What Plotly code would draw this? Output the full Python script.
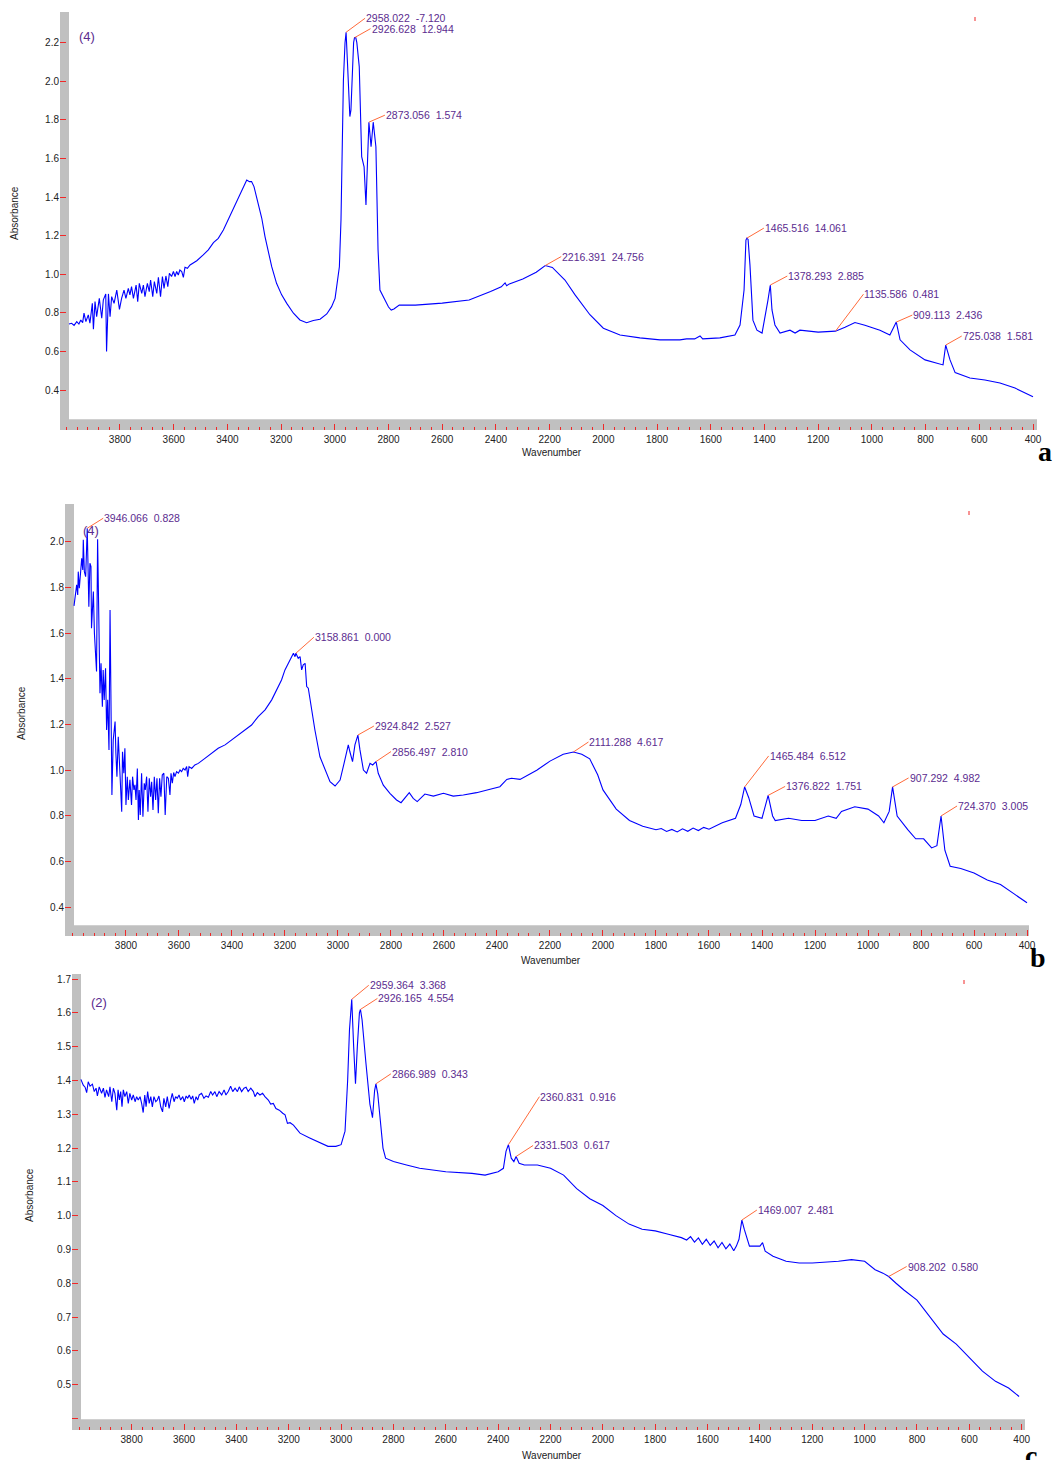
import numpy as np
import plotly.graph_objects as go

W, H = 1053, 1460
BLUE = "#0000FF"
RED = "#F02828"
BAR = "#C0C0C0"
PURPLE = "#5B2C8F"
LEADER = "#FF6A3A"
FONT = "Liberation Sans, Arial, sans-serif"

# ---------------- spectrum (a) ----------------
wn_a = [3990, 3980, 3971, 3961, 3953, 3946, 3939, 3934, 3927, 3918, 3912, 3903, 3899, 3893, 3887,
        3877, 3868, 3862, 3853, 3850, 3843, 3837, 3831, 3822, 3812, 3802, 3794, 3785, 3778, 3769,
        3763, 3757, 3750, 3740, 3734, 3728, 3719, 3713, 3707, 3698, 3691, 3686, 3678, 3672, 3663,
        3657, 3649, 3642, 3636, 3629, 3622, 3616, 3608, 3601, 3595, 3589, 3583, 3577, 3570, 3564,
        3558, 3549, 3539, 3514, 3490, 3471, 3452, 3434, 3415, 3397, 3378, 3359, 3343, 3334, 3328,
        3318, 3310, 3301, 3289, 3272, 3260, 3248, 3235, 3217, 3198, 3179, 3154, 3130, 3105, 3080,
        3055, 3030, 3012, 2999, 2991, 2983, 2977, 2972, 2968, 2962, 2958.022, 2953, 2948, 2944, 2940,
        2935, 2930, 2926.628, 2922, 2918, 2909, 2900, 2891, 2884, 2878, 2873.056, 2865, 2857, 2847, 2839,
        2832, 2813, 2800, 2790, 2780, 2760, 2700, 2600, 2500, 2420, 2380, 2366, 2360, 2350, 2300,
        2250, 2216.391, 2190, 2143, 2106, 2050, 2000, 1938, 1864, 1789, 1715, 1690, 1660, 1640, 1630,
        1566, 1510, 1491, 1476, 1469, 1465.516, 1461, 1454, 1443, 1428, 1409, 1387, 1378.293, 1372, 1361,
        1342, 1305, 1286, 1268, 1200, 1135.586, 1100, 1063, 1026, 970, 933, 920, 909.113, 895, 858,
        802, 765, 735, 725.038, 709, 690, 635, 579, 523, 467, 400]
abs_a = [0.742, 0.746, 0.735, 0.754, 0.742, 0.763, 0.749, 0.798, 0.754, 0.789, 0.746, 0.849, 0.715, 0.858, 0.780,
         0.875, 0.772, 0.867, 0.898, 0.599, 0.898, 0.780, 0.884, 0.849, 0.918, 0.818, 0.875, 0.918, 0.875, 0.927,
         0.893, 0.936, 0.875, 0.944, 0.858, 0.953, 0.901, 0.944, 0.884, 0.953, 0.910, 0.970, 0.884, 0.962, 0.901,
         0.984, 0.884, 0.988, 0.927, 0.991, 0.936, 1.005, 0.988, 1.014, 0.988, 1.014, 0.996, 1.022, 1.014, 0.984,
         1.036, 1.031, 1.048, 1.070, 1.100, 1.126, 1.164, 1.186, 1.229, 1.281, 1.342, 1.394, 1.437, 1.471, 1.488,
         1.480, 1.480, 1.454, 1.385, 1.290, 1.195, 1.117, 1.039, 0.953, 0.893, 0.849, 0.798, 0.763, 0.749, 0.760,
         0.767, 0.794, 0.832, 0.875, 0.970, 1.039, 1.281, 1.748, 2.007, 2.200, 2.254, 2.100, 1.900, 1.817, 1.850,
         2.050, 2.200, 2.226, 2.226, 2.200, 2.076, 1.609, 1.557, 1.359, 1.550, 1.788, 1.661, 1.788, 1.661, 1.126,
         0.918, 0.866, 0.830, 0.814, 0.820, 0.840, 0.840, 0.850, 0.866, 0.910, 0.935, 0.955, 0.940, 0.950, 0.975,
         1.010, 1.045, 1.035, 0.970, 0.894, 0.790, 0.720, 0.685, 0.670, 0.660, 0.660, 0.665, 0.665, 0.680, 0.665,
         0.670, 0.685, 0.737, 0.918, 1.177, 1.187, 1.180, 1.047, 0.762, 0.710, 0.695, 0.866, 0.944, 0.815, 0.737,
         0.695, 0.710, 0.695, 0.710, 0.700, 0.705, 0.725, 0.750, 0.736, 0.710, 0.685, 0.720, 0.752, 0.660, 0.608,
         0.556, 0.540, 0.530, 0.633, 0.556, 0.490, 0.462, 0.452, 0.436, 0.410, 0.365]

peaks_a = [2958.022, 2926.628, 2873.056, 2216.391, 1465.516, 1378.293, 1135.586, 909.113, 725.038]
vals_a = [-7.120, 12.944, 1.574, 24.756, 14.061, 2.885, 0.481, 2.436, 1.581]
offs_a = [(19, -14), (16, -9), (16, -7), (16, -9), (17, -10), (17, -9), (28, -37), (16, -7), (16, -9)]

# ---------------- spectrum (b) ----------------
wn_b = [3996, 3990, 3986, 3982, 3980, 3976, 3971, 3967, 3963, 3961, 3957, 3952, 3946.066, 3943, 3940,
        3936, 3932, 3930, 3923, 3919, 3914, 3911, 3907, 3902, 3898, 3894, 3889, 3886, 3882, 3877,
        3873, 3869, 3864, 3860, 3857, 3853, 3848, 3841, 3838, 3834, 3829, 3825, 3820, 3816, 3813,
        3808, 3804, 3800, 3795, 3791, 3785, 3779, 3775, 3770, 3766, 3762, 3757, 3753, 3750, 3746,
        3741, 3736, 3731, 3727, 3722, 3717, 3712, 3707, 3703, 3698, 3693, 3688, 3683, 3678, 3673,
        3668, 3663, 3657, 3652, 3646, 3640, 3634, 3630, 3625, 3620, 3615, 3609, 3602, 3596, 3590,
        3584, 3577, 3571, 3567, 3562, 3552, 3540, 3527, 3502, 3477, 3452, 3426, 3401, 3376, 3351,
        3326, 3301, 3275, 3250, 3231, 3213, 3200, 3187, 3175, 3168, 3162, 3158.861, 3150, 3143, 3137,
        3131, 3124, 3118, 3112, 3099, 3087, 3068, 3049, 3030, 3011, 2992, 2974, 2961, 2955, 2945,
        2936, 2924.842, 2917, 2904, 2892, 2879, 2869, 2856.497, 2848, 2829, 2804, 2779, 2762, 2747, 2731,
        2716, 2701, 2672, 2640, 2602, 2565, 2527, 2477, 2426, 2389, 2363, 2345, 2313, 2250, 2200,
        2150, 2111.288, 2080, 2050, 2020, 2000, 1950, 1900, 1850, 1800, 1780, 1760, 1740, 1720, 1700,
        1680, 1660, 1640, 1620, 1600, 1550,
        1500, 1480, 1465.484, 1450, 1430, 1400, 1376.822, 1360, 1350, 1300, 1250, 1200, 1150, 1120, 1100,
        1050, 1000, 960, 940, 920, 907.292, 890, 850, 820, 790, 760, 740, 724.370, 710, 690,
        650, 600, 550, 500, 450, 400]
abs_b = [1.719, 1.767, 1.811, 1.767, 1.869, 1.796, 1.876, 1.927, 1.876, 2.008, 1.869, 1.847, 2.059, 1.935, 1.716,
         1.906, 1.891, 1.621, 1.782, 1.599, 1.468, 1.432, 2.011, 1.497, 1.337, 1.468, 1.278, 1.439, 1.308, 1.446,
         1.176, 1.308, 1.089, 1.701, 1.366, 0.892, 1.133, 1.213, 1.074, 0.972, 1.147, 1.045, 0.943, 0.819, 1.081,
         0.987, 1.096, 0.848, 0.972, 0.870, 0.958, 0.848, 0.972, 0.914, 0.936, 0.870, 1.008, 0.782, 0.914, 0.804,
         0.987, 0.797, 0.943, 0.914, 0.972, 0.819, 0.965, 0.884, 0.950, 0.826, 0.972, 0.870, 0.965, 0.812, 0.965,
         0.884, 0.979, 0.987, 0.804, 0.972, 0.965, 0.892, 0.987, 0.943, 0.990, 0.972, 0.994, 0.987, 1.001, 0.994,
         1.008, 1.001, 1.016, 0.972, 1.016, 1.008, 1.023, 1.030, 1.052, 1.074, 1.096, 1.111, 1.133, 1.154, 1.176,
         1.198, 1.235, 1.264, 1.308, 1.351, 1.395, 1.439, 1.468, 1.497, 1.512, 1.497, 1.512, 1.490, 1.497, 1.439,
         1.461, 1.468, 1.366, 1.359, 1.264, 1.176, 1.059, 1.001, 0.950, 0.931, 0.957, 1.045, 1.111, 1.081, 1.038,
         1.111, 1.154, 1.089, 1.001, 0.987, 1.030, 1.023, 1.038, 0.987, 0.935, 0.899, 0.870, 0.858, 0.877, 0.902,
         0.877, 0.863, 0.896, 0.887, 0.899, 0.887, 0.892, 0.902, 0.917, 0.928, 0.960, 0.965, 0.960, 1.000, 1.040,
         1.070, 1.080, 1.070, 1.050, 0.980, 0.914, 0.830, 0.780, 0.755, 0.740, 0.745, 0.732, 0.741, 0.730, 0.744,
         0.733, 0.747, 0.736, 0.750, 0.742, 0.770,
         0.790, 0.850, 0.927, 0.880, 0.800, 0.790, 0.890, 0.800, 0.780, 0.790, 0.780, 0.780, 0.800, 0.790, 0.820,
         0.840, 0.830, 0.800, 0.770, 0.820, 0.927, 0.800, 0.740, 0.700, 0.700, 0.660, 0.670, 0.800, 0.650, 0.580,
         0.570, 0.550, 0.520, 0.500, 0.460, 0.420]

peaks_b = [3946.066, 3158.861, 2924.842, 2856.497, 2111.288, 1465.484, 1376.822, 907.292, 724.370]
vals_b = [0.828, 0.000, 2.527, 2.810, 4.617, 6.512, 1.751, 4.982, 3.005]
offs_b = [(16, -10), (18, -16), (16, -9), (15, -10), (15, -10), (24, -31), (17, -9), (16, -9), (16, -10)]

# ---------------- spectrum (c) ----------------
wn_c = [3994, 3985, 3978, 3972, 3966, 3959, 3950, 3943, 3936, 3931, 3924, 3915, 3908, 3902, 3896,
        3888, 3883, 3876, 3870, 3864, 3857, 3852, 3847, 3842, 3837, 3832, 3826, 3819, 3813, 3807,
        3800, 3794, 3787, 3781, 3775, 3768, 3762, 3756, 3750, 3745, 3739, 3733, 3727, 3721, 3715,
        3708, 3702, 3696, 3689, 3682, 3677, 3670, 3664, 3657, 3651, 3645, 3638, 3632, 3626, 3619,
        3613, 3605, 3599, 3592, 3586, 3580, 3573, 3567, 3561, 3554, 3548, 3542, 3533, 3524, 3516,
        3507, 3498, 3491, 3482, 3475, 3466, 3456, 3447, 3440, 3431, 3422, 3414, 3405, 3396, 3389,
        3380, 3371, 3363, 3355, 3345, 3335, 3329, 3320, 3310, 3300, 3291, 3278, 3269, 3259, 3249,
        3236, 3223, 3214, 3205, 3195, 3182, 3170, 3157, 3120, 3080, 3050, 3020, 3000, 2985, 2975,
        2968, 2959.364, 2952, 2945, 2938, 2930, 2926.165, 2920, 2905, 2890, 2880, 2872, 2866.989, 2860, 2850,
        2840, 2830, 2800, 2750, 2700, 2600, 2500, 2450, 2400, 2380, 2370, 2360.831, 2350, 2340, 2331.503,
        2320, 2300, 2250, 2200, 2150, 2100, 2050, 2000, 1950, 1900, 1850, 1800, 1750, 1700, 1680,
        1665, 1650, 1635, 1620, 1605, 1590, 1575, 1560, 1545, 1530, 1515, 1500, 1490,
        1480, 1469.007, 1460, 1440, 1420, 1400, 1390, 1380, 1350, 1300, 1250, 1200,
        1100, 1050, 1000, 960, 930, 908.202, 880, 850, 800, 750, 700, 650, 600, 550, 500,
        450, 410]
abs_c = [1.403, 1.386, 1.380, 1.364, 1.396, 1.383, 1.389, 1.367, 1.377, 1.354, 1.381, 1.362, 1.377, 1.350, 1.372,
         1.352, 1.381, 1.337, 1.377, 1.362, 1.312, 1.372, 1.342, 1.367, 1.322, 1.372, 1.352, 1.367, 1.332, 1.362,
         1.342, 1.357, 1.337, 1.352, 1.342, 1.352, 1.332, 1.305, 1.357, 1.322, 1.367, 1.332, 1.352, 1.322, 1.352,
         1.337, 1.342, 1.354, 1.322, 1.307, 1.347, 1.322, 1.352, 1.317, 1.342, 1.362, 1.337, 1.352, 1.347, 1.357,
         1.342, 1.352, 1.337, 1.354, 1.347, 1.357, 1.344, 1.354, 1.332, 1.352, 1.342, 1.357, 1.362, 1.347, 1.354,
         1.350, 1.367, 1.357, 1.367, 1.352, 1.367, 1.357, 1.372, 1.357, 1.367, 1.383, 1.367, 1.377, 1.367, 1.381,
         1.367, 1.377, 1.380, 1.367, 1.377, 1.367, 1.352, 1.364, 1.357, 1.362, 1.352, 1.342, 1.330, 1.332, 1.317,
         1.312, 1.303, 1.298, 1.273, 1.275, 1.268, 1.258, 1.244, 1.230, 1.215, 1.205, 1.205, 1.210, 1.250, 1.400,
         1.550, 1.640, 1.500, 1.390, 1.500, 1.600, 1.610, 1.580, 1.450, 1.330, 1.290, 1.370, 1.390, 1.360, 1.280,
         1.200, 1.170, 1.160, 1.150, 1.140, 1.130, 1.125, 1.120, 1.130, 1.140, 1.190, 1.210, 1.170, 1.160, 1.175,
         1.155, 1.150, 1.150, 1.140, 1.120, 1.080, 1.050, 1.030, 1.000, 0.975, 0.960, 0.955, 0.945, 0.935, 0.928,
         0.938, 0.922, 0.934, 0.915, 0.930, 0.912, 0.925, 0.905, 0.921, 0.902, 0.916, 0.896, 0.910,
         0.930, 0.987, 0.960, 0.910, 0.910, 0.910, 0.920, 0.895, 0.880, 0.865, 0.860, 0.860,
         0.865, 0.870, 0.865, 0.840, 0.830, 0.820, 0.800, 0.780, 0.750, 0.700, 0.650, 0.620, 0.580, 0.540, 0.510,
         0.490, 0.465]

peaks_c = [2959.364, 2926.165, 2866.989, 2360.831, 2331.503, 1469.007, 908.202]
vals_c = [3.368, 4.554, 0.343, 0.916, 0.617, 2.481, 0.580]
offs_c = [(17, -14), (17, -11), (15, -10), (31, -48), (17, -11), (15, -10), (18, -10)]

# panel geometry in pixels: (left, right, top, bottom), axis ranges, y ticks
panels = [
    dict(wn=wn_a, ab=abs_a, pk=peaks_a, pv=vals_a, off=offs_a, box=(60, 1037, 12, 430),
         xr=[4023.4, 385.1], yr=[0.1927, 2.359], yt=[0.4, 0.6, 0.8, 1.0, 1.2, 1.4, 1.6, 1.8, 2.0, 2.2],
         yfmt="%.1f", tag="(4)", tagpos=(87, 36), letter="a", letpos=(1045, 452),
         ytitle=(15, 213), xtitle=(552, 453), mark=(975, 19)),
    dict(wn=wn_b, ab=abs_b, pk=peaks_b, pv=vals_b, off=offs_b, box=(65, 1029, 504, 936),
         xr=[4030.0, 392.5], yr=[0.2748, 2.165], yt=[0.4, 0.6, 0.8, 1.0, 1.2, 1.4, 1.6, 1.8, 2.0],
         yfmt="%.1f", tag="(4)", tagpos=(91, 530), letter="b", letpos=(1038, 957),
         ytitle=(21, 713), xtitle=(551, 960), mark=(969, 513)),
    dict(wn=wn_c, ab=abs_c, pk=peaks_c, pv=vals_c, off=offs_c, box=(72, 1025, 974, 1430),
         xr=[4028.0, 387.4], yr=[0.366, 1.7148],
         yt=[0.4, 0.5, 0.6, 0.7, 0.8, 0.9, 1.0, 1.1, 1.2, 1.3, 1.4, 1.5, 1.6, 1.7],
         yfmt="%.1f", tag="(2)", tagpos=(99, 1002), letter="c", letpos=(1031, 1455),
         ytitle=(29, 1195), xtitle=(552, 1455), mark=(964, 982)),
]


def fx(px):
    return px / W


def fy(py):
    return 1 - py / H


fig = go.Figure()
shapes, annotations = [], []
xt = list(range(3800, 399, -200))

for i, p in enumerate(panels, start=1):
    xa = "x" if i == 1 else f"x{i}"
    ya = "y" if i == 1 else f"y{i}"
    l, r, t, b = p["box"]
    fig.add_trace(go.Scatter(x=p["wn"], y=p["ab"], mode="lines", xaxis=xa, yaxis=ya,
                             line=dict(color=BLUE, width=1.1), showlegend=False,
                             hoverinfo="skip"))

    ticktext = [("" if (i == 3 and abs(v - 0.4) < 1e-9) else p["yfmt"] % v) for v in p["yt"]]
    axis_font = dict(family=FONT, size=10, color="#222222")
    fig.update_layout(**{
        ("xaxis" if i == 1 else f"xaxis{i}"): dict(
            domain=[fx(l), fx(r)], anchor=ya, range=p["xr"], showgrid=False, zeroline=False,
            showline=False, tickvals=xt, ticktext=[str(v) for v in xt], ticks="inside",
            ticklen=6, tickwidth=1, tickcolor=RED, tickfont=axis_font, automargin=False,
            ticklabelstandoff=2,
            minor=dict(dtick=40, tick0=0, ticks="inside", ticklen=3, tickwidth=1,
                       tickcolor=RED, showgrid=False)),
        ("yaxis" if i == 1 else f"yaxis{i}"): dict(
            domain=[fy(b), fy(t)], anchor=xa, range=p["yr"], showgrid=False, zeroline=False,
            showline=False, tickvals=p["yt"], ticktext=ticktext, ticks="inside", automargin=False,
            ticklen=6, tickwidth=1, tickcolor=RED, tickfont=axis_font),
    })

    # grey axis bars
    shapes.append(dict(type="rect", xref="paper", yref="paper", x0=fx(l), x1=fx(l + 9),
                       y0=fy(b), y1=fy(t), fillcolor=BAR, line=dict(width=0), layer="below"))
    shapes.append(dict(type="rect", xref="paper", yref="paper", x0=fx(l), x1=fx(r),
                       y0=fy(b), y1=fy(b - 10.7), fillcolor=BAR, line=dict(width=0), layer="below"))
    mx, my = p["mark"]
    shapes.append(dict(type="line", xref="paper", yref="paper", x0=fx(mx), x1=fx(mx),
                       y0=fy(my - 2), y1=fy(my + 2), line=dict(color=RED, width=1)))

    # peak labels with leader lines
    for w, v, (ax, ay) in zip(p["pk"], p["pv"], p["off"]):
        yv = float(np.interp(w, p["wn"][::-1], p["ab"][::-1]))
        annotations.append(dict(
            x=w, y=yv, xref=xa, yref=ya, text=f"{w:.3f}\u00a0\u00a0{v:.3f}",
            showarrow=True, arrowhead=0, arrowwidth=1, arrowcolor=LEADER, standoff=0,
            ax=ax, ay=ay, xanchor="left", yanchor="middle", borderpad=0,
            font=dict(family=FONT, size=10.5, color=PURPLE)))

    tx, ty = p["tagpos"]
    annotations.append(dict(x=fx(tx), y=fy(ty), xref="paper", yref="paper", text=p["tag"],
                            showarrow=False, xanchor="center", yanchor="middle",
                            font=dict(family=FONT, size=13, color=PURPLE)))
    lx, ly = p["letpos"]
    annotations.append(dict(x=fx(lx), y=fy(ly), xref="paper", yref="paper",
                            text=f"<b>{p['letter']}</b>", showarrow=False,
                            xanchor="center", yanchor="middle", borderpad=0,
                            font=dict(family="Liberation Serif, Times New Roman, serif",
                                      size=28, color="#000000")))
    yx, yy = p["ytitle"]
    annotations.append(dict(x=fx(yx), y=fy(yy), xref="paper", yref="paper", text="Absorbance",
                            textangle=-90, showarrow=False, xanchor="center", yanchor="middle",
                            font=dict(family=FONT, size=10, color="#222222")))
    wx, wy = p["xtitle"]
    annotations.append(dict(x=fx(wx), y=fy(wy), xref="paper", yref="paper", text="Wavenumber",
                            showarrow=False, xanchor="center", yanchor="middle",
                            font=dict(family=FONT, size=10, color="#222222")))

fig.update_layout(width=W, height=H, autosize=False,
                  margin=dict(l=0, r=0, t=0, b=0, pad=0, autoexpand=False),
                  paper_bgcolor="white", plot_bgcolor="rgba(0,0,0,0)",
                  shapes=shapes, annotations=annotations, showlegend=False,
                  font=dict(family=FONT))

fig.write_html("out.html", config={"responsive": False},
               post_script="document.body.style.margin='0';document.body.style.overflow='hidden';")
